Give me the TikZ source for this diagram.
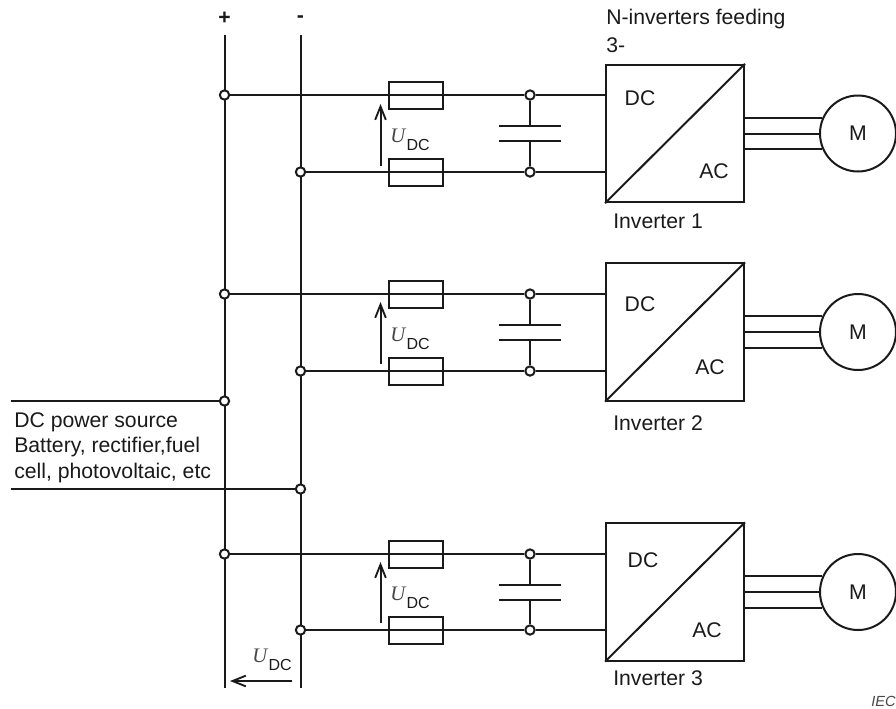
\documentclass[tikz,border=0pt]{standalone}
\usepackage{fontspec}
\setmainfont{Liberation Sans}
\newfontfamily\ufont{Liberation Serif}
\usetikzlibrary{arrows.meta}
\definecolor{ink}{HTML}{1A1A1A}
\tikzset{
  x=0.75pt,y=-0.75pt,
  wire/.style={draw=ink,line width=1.5pt},
  thinw/.style={draw=ink,line width=1.35pt},
  dot/.style={circle,draw=ink,fill=white,line width=1.5pt,inner sep=0pt,minimum size=7pt},
  fuse/.style={rectangle,draw=ink,line width=1.5pt,inner sep=0pt,minimum width=40.5pt,minimum height=20.25pt},
  conv/.style={rectangle,draw=ink,line width=1.5pt,inner sep=0pt,minimum width=103.5pt,minimum height=103pt},
  motor/.style={circle,draw=ink,fill=white,line width=1.5pt,inner sep=0pt,minimum size=57pt},
  lbl/.style={font=\fontsize{15.9}{18}\selectfont,text=ink,inner sep=0pt},
  llbl/.style={lbl,anchor=west},
  volt/.style={inner sep=0pt,text=ink,anchor=west},
  varrow/.style={draw=ink,line width=1.5pt,-{Straight Barb[length=10pt,width=8pt,line width=1.4pt]}},
}
\newcommand{\udc}{{\ufont\itshape\fontsize{15.5}{16}\selectfont\color{ink!80}U}\kern1pt\raisebox{-6pt}{\fontsize{12}{12}\selectfont DC}}
\begin{document}
\begin{tikzpicture}
\useasboundingbox (0,0) rectangle (896,708);
% rails
\coordinate (pt) at (224.5,35); \coordinate (pb) at (224.5,688);
\coordinate (nt) at (300.5,35); \coordinate (nb) at (300.5,688);
\draw[wire] (pt) -- (pb);
\draw[wire] (nt) -- (nb);
\node[lbl,font=\fontsize{15.9}{18}\selectfont\bfseries] (plus) at (224.5,18) {+};
\node[lbl,font=\fontsize{15.9}{18}\selectfont\bfseries] (minus) at (300.5,19) {-};
\foreach \i/\ya/\yb/\yc/\yd/\xdc/\ydc/\xac/\yac/\yl/\yu/\aa/\ab in {%
  1/95/172/133.5/133.5/640/98/714/171/221/140/166/104,%
  2/294/371/332/332/640/304/710/367/423/339/364/302,%
  3/554/630/592/592/643/560/707/630/678/598/623/562}{
  \node[dot] (da\i) at (224.5,\ya) {};
  \node[dot] (db\i) at (300.5,\yb) {};
  \node[dot] (ca\i) at (530,\ya) {};
  \node[dot] (cb\i) at (530,\yb) {};
  \node[fuse] (fa\i) at (415.5,\ya) {};
  \node[fuse] (fb\i) at (415.5,\yb) {};
  \node[conv] (box\i) at (675,\yc) {};
  \node[motor] (m\i) at (858,\yd) {};
  \node[lbl] at (858,\yd) {M};
  \draw[wire] (da\i) -- (ca\i);
  \draw[wire] (db\i) -- (cb\i);
  \draw[wire] (ca\i) -- (ca\i -| box\i.west);
  \draw[wire] (cb\i) -- (cb\i -| box\i.west);
  \draw[wire] (box\i.south west) -- (box\i.north east);
  % capacitor
  \coordinate (pu\i) at (530,\yc-7.5);
  \coordinate (pl\i) at (530,\yc+7.5);
  \draw[thinw] (ca\i) -- (pu\i);
  \draw[thinw] (cb\i) -- (pl\i);
  \draw[wire] ([xshift=-23.25pt]pu\i) -- ([xshift=23.25pt]pu\i);
  \draw[wire] ([xshift=-23.25pt]pl\i) -- ([xshift=23.25pt]pl\i);
  % motor leads
  \draw[wire] (box\i.east) -- (m\i.west);
  \draw[wire] (m\i.156) -- (m\i.156 -| box\i.east);
  \draw[wire] (m\i.204) -- (m\i.204 -| box\i.east);
  % voltage arrow
  \coordinate (as\i) at (380.5,\aa);
  \coordinate (ae\i) at (380.5,\ab);
  \draw[varrow] (as\i) -- (ae\i);
  \node[volt] (u\i) at (390,\yu) {\udc};
  % texts
  \node[lbl] (dc\i) at (\xdc,\ydc) {DC};
  \node[lbl] (ac\i) at (\xac,\yac) {AC};
  \node[llbl] (inv\i) at (613,\yl) {Inverter \i};
}
% source
\node[dot] (sp) at (224.5,401) {};
\node[dot] (sn) at (300.5,489) {};
\coordinate (spl) at (11,401);
\coordinate (snl) at (11,489);
\draw[wire] (spl) -- (sp);
\draw[wire] (snl) -- (sn);
\node[llbl] (s1) at (14,422) {DC power source};
\node[llbl] (s2) at (14,447) {Battery, rectifier,fuel};
\node[llbl] (s3) at (14,473) {cell, photovoltaic, etc};
% bottom voltage
\coordinate (hs) at (292,681);
\coordinate (he) at (230,681);
\draw[varrow] (hs) -- (he);
\node[volt] (u0) at (252,660) {\udc};
% title
\node[llbl] (t1) at (606,19) {N-inverters feeding};
\node[llbl] (t2) at (606,45) {3-};
\node[anchor=west,inner sep=0pt,text=ink!80,font=\fontsize{11}{13}\selectfont\itshape] (iec) at (871,701) {IEC};
\end{tikzpicture}
\end{document}
